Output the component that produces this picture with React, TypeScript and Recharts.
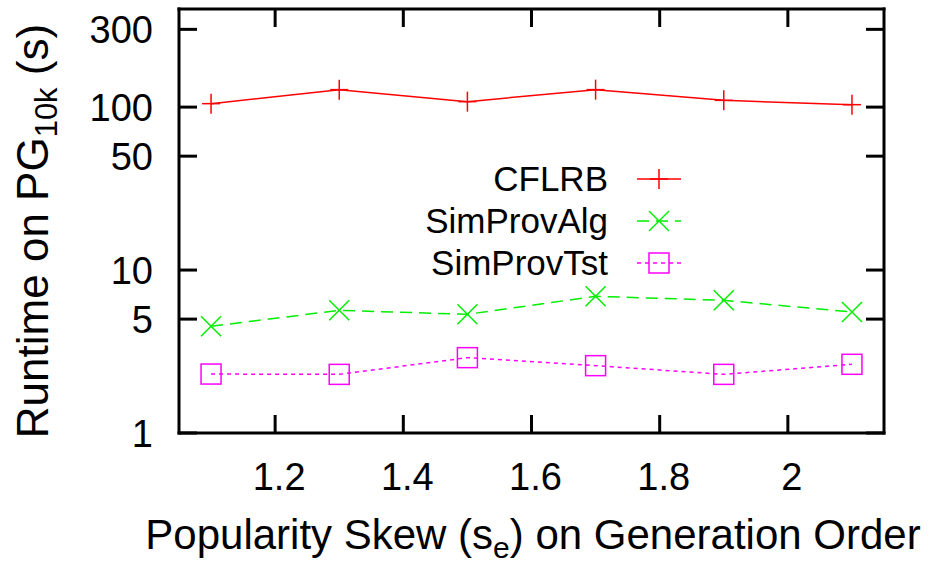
import React from "react";
import { LineChart, Line, XAxis, YAxis, Legend } from "recharts";

const skew = [1.1, 1.3, 1.5, 1.7, 1.9, 2.1];
const cflrb = [105, 128, 108, 128, 110, 103.5];
const simProvAlg = [4.52, 5.66, 5.35, 6.9, 6.52, 5.53];
const simProvTst = [2.3, 2.29, 2.9, 2.59, 2.29, 2.64];

const xTicks = [1.2, 1.4, 1.6, 1.8, 2];
const yTicks = [1, 5, 10, 50, 100, 300];

const data = skew.map((s, i) => ({
  skew: s,
  CFLRB: cflrb[i],
  SimProvAlg: simProvAlg[i],
  SimProvTst: simProvTst[i],
}));

const FONT = "'Liberation Sans', Arial, Helvetica, sans-serif";
const RED = "#ff0000";
const GREEN = "#00ee00";
const MAGENTA = "#ff00ff";

function PlusMark({ cx, cy, color }: any) {
  return (
    <g stroke={color} strokeWidth={1.5}>
      <line x1={cx - 9} y1={cy} x2={cx + 9} y2={cy} />
      <line x1={cx} y1={cy - 10} x2={cx} y2={cy + 10} />
    </g>
  );
}

function CrossMark({ cx, cy, color }: any) {
  return (
    <g stroke={color} strokeWidth={1.5}>
      <line x1={cx - 10} y1={cy - 10} x2={cx + 10} y2={cy + 10} />
      <line x1={cx - 10} y1={cy + 10} x2={cx + 10} y2={cy - 10} />
    </g>
  );
}

function SquareMark({ cx, cy, color }: any) {
  return <rect x={cx - 10} y={cy - 10} width={20} height={20} fill="none" stroke={color} strokeWidth={1.5} />;
}

const series = [
  { key: "CFLRB", color: RED, dash: undefined, Mark: PlusMark },
  { key: "SimProvAlg", color: GREEN, dash: "12 7", Mark: CrossMark },
  { key: "SimProvTst", color: MAGENTA, dash: "4 4", Mark: SquareMark },
];

const LeftTick = ({ x, y, payload }: any) => (
  <g>
    <line x1={x} y1={y} x2={x + 18} y2={y} stroke="#000" strokeWidth={3} />
    <text x={x - 26} y={y} dy="0.36em" textAnchor="end" fontSize={38} fontFamily={FONT} fill="#000">
      {payload.value}
    </text>
  </g>
);

const RightTick = ({ x, y }: any) => (
  <line x1={x - 18} y1={y} x2={x} y2={y} stroke="#000" strokeWidth={3} />
);

const BottomTick = ({ x, y, payload }: any) => (
  <g>
    <line x1={x} y1={y} x2={x} y2={y - 18} stroke="#000" strokeWidth={3} />
    <text x={x + 4} y={y + 57} textAnchor="middle" fontSize={38} fontFamily={FONT} fill="#000">
      {payload.value}
    </text>
  </g>
);

const TopTick = ({ x, y }: any) => (
  <line x1={x} y1={y} x2={x} y2={y + 18} stroke="#000" strokeWidth={3} />
);

const LegendBox = () => (
  <div style={{ fontFamily: FONT, fontSize: 35, color: "#000" }}>
    {series.map((s) => (
      <div key={s.key} style={{ display: "flex", alignItems: "center", height: 42 }}>
        <span style={{ width: 228, textAlign: "right", lineHeight: "42px" }}>{s.key}</span>
        <svg width={44} height={42} style={{ marginLeft: 29 }}>
          <line x1={0} y1={21} x2={44} y2={21} stroke={s.color} strokeWidth={1.5} strokeDasharray={s.dash} />
          <s.Mark cx={22} cy={21} color={s.color} />
        </svg>
      </div>
    ))}
  </div>
);

const axisLine = { stroke: "#000", strokeWidth: 3, strokeLinecap: "square" as const };

export default function App() {
  return (
    <div style={{ position: "absolute", left: 0, top: 0, background: "#fff" }}>
      <LineChart width={930} height={565} data={data} margin={{ top: 8, right: 45, left: 178, bottom: 131 }}>
        <XAxis
          dataKey="skew"
          type="number"
          domain={[1.05, 2.15]}
          ticks={xTicks}
          height={1}
          tickSize={0}
          tickMargin={0}
          tickLine={false}
          axisLine={axisLine}
          tick={<BottomTick />}
          allowDataOverflow
          label={{
            content: () => (
              <text x={533} y={549} textAnchor="middle" fontSize={42} fontFamily={FONT} fill="#000">
                Popularity Skew (s
                <tspan fontSize={30} dy={9}>e</tspan>
                <tspan dy={-9}>) on Generation Order</tspan>
              </text>
            ),
          }}
        />
        <XAxis
          xAxisId="top"
          orientation="top"
          dataKey="skew"
          type="number"
          domain={[1.05, 2.15]}
          ticks={xTicks}
          height={1}
          tickSize={0}
          tickMargin={0}
          tickLine={false}
          axisLine={axisLine}
          tick={<TopTick />}
          allowDataOverflow
        />
        <YAxis
          type="number"
          scale="log"
          domain={[1, 400]}
          ticks={yTicks}
          width={1}
          tickSize={0}
          tickMargin={0}
          tickLine={false}
          axisLine={axisLine}
          tick={<LeftTick />}
          allowDataOverflow
          label={{
            content: () => (
              <text
                transform="translate(48, 231) rotate(-90)"
                textAnchor="middle"
                fontSize={44}
                fontFamily={FONT}
                fill="#000"
              >
                Runtime on PG
                <tspan fontSize={31} dy={9}>10k</tspan>
                <tspan dy={-9}> (s)</tspan>
              </text>
            ),
          }}
        />
        <YAxis
          yAxisId="right"
          orientation="right"
          type="number"
          scale="log"
          domain={[1, 400]}
          ticks={yTicks}
          width={1}
          tickSize={0}
          tickMargin={0}
          tickLine={false}
          axisLine={axisLine}
          tick={<RightTick />}
          allowDataOverflow
        />
        {series.map((s) => (
          <Line
            key={s.key}
            dataKey={s.key}
            type="linear"
            stroke={s.color}
            strokeWidth={1.5}
            strokeDasharray={s.dash}
            isAnimationActive={false}
            dot={(p: any) => <s.Mark key={`${s.key}-${p.index}`} cx={p.cx} cy={p.cy} color={s.color} />}
            activeDot={false}
          />
        ))}
        <Legend
          layout="vertical"
          align="center"
          verticalAlign="middle"
          content={<LegendBox />}
          wrapperStyle={{ left: 380, top: 158, width: 320 }}
        />
      </LineChart>
    </div>
  );
}
